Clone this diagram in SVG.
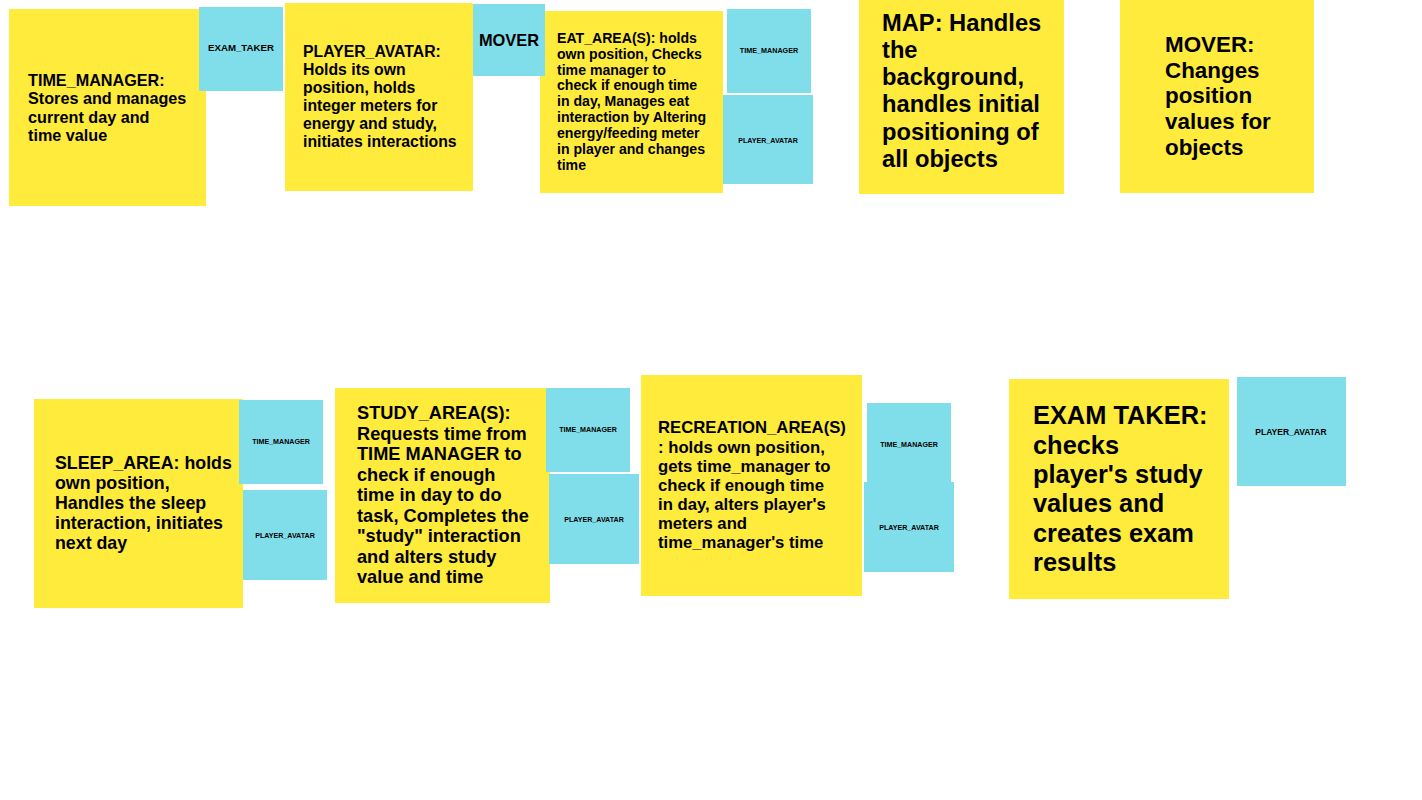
<svg xmlns="http://www.w3.org/2000/svg" width="1422" height="800" viewBox="0 0 1422 800">
<style>
.y{fill:#FFEB3B}
.b{fill:#80DEEA}
text{font-family:"Liberation Sans",Arial,sans-serif;font-weight:bold;fill:#000}
.s{text-anchor:middle}
</style>
<rect width="1422" height="800" fill="#ffffff"/>
<g id="connectors"/>
<g id="time_manager">
<rect class="y" x="9" y="9" width="197" height="197"/>
<text x="28" font-size="16.2"><tspan x="28" y="86">TIME_MANAGER:</tspan><tspan x="28" y="104.3">Stores and manages</tspan><tspan x="28" y="122.6">current day and</tspan><tspan x="28" y="141">time value</tspan></text>
</g>
<g id="time_manager_collab_exam_taker">
<rect class="b" x="199" y="7" width="84" height="84"/>
<text class="s" x="241" y="51.4" font-size="9.7">EXAM_TAKER</text>
</g>
<g id="player_avatar">
<rect class="y" x="285" y="3" width="188" height="188"/>
<text font-size="15.8"><tspan x="303" y="56.7">PLAYER_AVATAR:</tspan><tspan x="303" y="74.7">Holds its own</tspan><tspan x="303" y="92.7">position, holds</tspan><tspan x="303" y="110.7">integer meters for</tspan><tspan x="303" y="128.7">energy and study,</tspan><tspan x="303" y="146.7">initiates interactions</tspan></text>
</g>
<g id="eat_area">
<rect class="y" x="540" y="11" width="183" height="182"/>
<text font-size="14.1"><tspan x="557" y="42.7">EAT_AREA(S): holds</tspan><tspan x="557" y="58.6">own position, Checks</tspan><tspan x="557" y="74.5">time manager to</tspan><tspan x="557" y="90.4">check if enough time</tspan><tspan x="557" y="106.3">in day, Manages eat</tspan><tspan x="557" y="122.2">interaction by Altering</tspan><tspan x="557" y="138.1">energy/feeding meter</tspan><tspan x="557" y="154">in player and changes</tspan><tspan x="557" y="170">time</tspan></text>
</g>
<g id="player_avatar_collab_mover">
<rect class="b" x="473" y="4" width="72" height="72"/>
<text class="s" x="509" y="46" font-size="16.4">MOVER</text>
</g>
<g id="eat_area_collab_time_manager">
<rect class="b" x="727" y="9" width="84" height="84"/>
<text class="s" x="769" y="52.5" font-size="7.2">TIME_MANAGER</text>
</g>
<g id="eat_area_collab_player_avatar">
<rect class="b" x="723" y="95" width="90" height="89"/>
<text class="s" x="768" y="142.5" font-size="7.1">PLAYER_AVATAR</text>
</g>
<g id="map">
<rect class="y" x="859" y="0" width="205" height="194"/>
<text font-size="23.7"><tspan x="882" y="30.7">MAP: Handles</tspan><tspan x="882" y="57.9">the</tspan><tspan x="882" y="85.1">background,</tspan><tspan x="882" y="112.3">handles initial</tspan><tspan x="882" y="139.5">positioning of</tspan><tspan x="882" y="166.7">all objects</tspan></text>
</g>
<g id="mover">
<rect class="y" x="1120" y="0" width="194" height="193"/>
<text font-size="22.4"><tspan x="1165" y="51.7">MOVER:</tspan><tspan x="1165" y="77.5">Changes</tspan><tspan x="1165" y="103.3">position</tspan><tspan x="1165" y="129.1">values for</tspan><tspan x="1165" y="155">objects</tspan></text>
</g>
<g id="sleep_area">
<rect class="y" x="34" y="399" width="209" height="209"/>
<text font-size="17.8"><tspan x="55" y="469">SLEEP_AREA: holds</tspan><tspan x="55" y="489.1">own position,</tspan><tspan x="55" y="509.2">Handles the sleep</tspan><tspan x="55" y="529.3">interaction, initiates</tspan><tspan x="55" y="549.3">next day</tspan></text>
</g>
<g id="sleep_area_collab_time_manager">
<rect class="b" x="239" y="400" width="84" height="84"/>
<text class="s" x="281" y="443.5" font-size="7.1">TIME_MANAGER</text>
</g>
<g id="sleep_area_collab_player_avatar">
<rect class="b" x="243" y="490" width="84" height="90"/>
<text class="s" x="285" y="537.5" font-size="7.1">PLAYER_AVATAR</text>
</g>
<g id="study_area">
<rect class="y" x="335" y="388" width="215" height="215"/>
<text font-size="18.2"><tspan x="357" y="419">STUDY_AREA(S):</tspan><tspan x="357" y="439.5">Requests time from</tspan><tspan x="357" y="460">TIME MANAGER to</tspan><tspan x="357" y="480.5">check if enough</tspan><tspan x="357" y="501">time in day to do</tspan><tspan x="357" y="521.5">task, Completes the</tspan><tspan x="357" y="542">"study" interaction</tspan><tspan x="357" y="562.5">and alters study</tspan><tspan x="357" y="583.3">value and time</tspan></text>
</g>
<g id="study_area_collab_time_manager">
<rect class="b" x="546" y="388" width="84" height="84"/>
<text class="s" x="588" y="431.5" font-size="7.1">TIME_MANAGER</text>
</g>
<g id="study_area_collab_player_avatar">
<rect class="b" x="549" y="474" width="90" height="90"/>
<text class="s" x="594" y="521.5" font-size="7.1">PLAYER_AVATAR</text>
</g>
<g id="recreation_area">
<rect class="y" x="641" y="375" width="221" height="221"/>
<text font-size="16.7"><tspan x="658" y="433.3">RECREATION_AREA(S)</tspan><tspan x="658" y="452.5">: holds own position,</tspan><tspan x="658" y="471.7">gets time_manager to</tspan><tspan x="658" y="490.9">check if enough time</tspan><tspan x="658" y="510.1">in day, alters player's</tspan><tspan x="658" y="529.3">meters and</tspan><tspan x="658" y="548.3">time_manager's time</tspan></text>
</g>
<g id="recreation_area_collab_time_manager">
<rect class="b" x="867" y="403" width="84" height="84"/>
<text class="s" x="909" y="446.5" font-size="7.1">TIME_MANAGER</text>
</g>
<g id="recreation_area_collab_player_avatar">
<rect class="b" x="864" y="482" width="90" height="90"/>
<text class="s" x="909" y="529.5" font-size="7.1">PLAYER_AVATAR</text>
</g>
<g id="exam_taker">
<rect class="y" x="1009" y="379" width="220" height="220"/>
<text font-size="25.4"><tspan x="1033" y="424.3">EXAM TAKER:</tspan><tspan x="1033" y="453.6">checks</tspan><tspan x="1033" y="482.9">player's study</tspan><tspan x="1033" y="512.2">values and</tspan><tspan x="1033" y="541.5">creates exam</tspan><tspan x="1033" y="570.7">results</tspan></text>
</g>
<g id="exam_taker_collab_player_avatar">
<rect class="b" x="1237" y="377" width="109" height="109"/>
<text class="s" x="1291" y="435" font-size="8.5">PLAYER_AVATAR</text>
</g>
</svg>
